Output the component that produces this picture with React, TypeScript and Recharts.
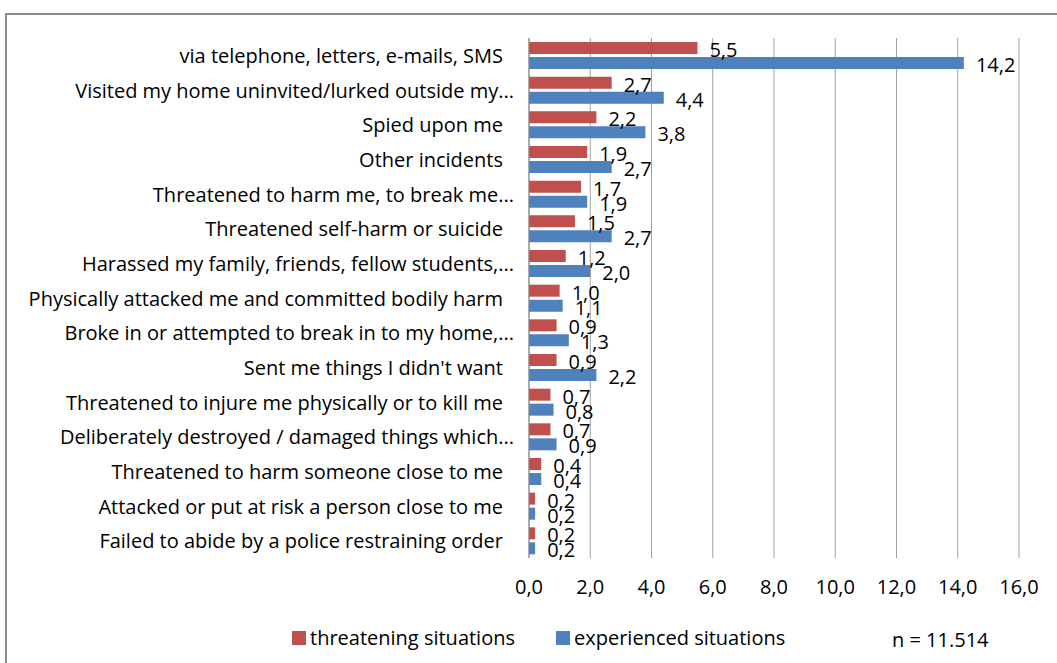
import React from "react";
import { Bar, BarChart, CartesianGrid, LabelList, XAxis, YAxis } from "recharts";

const categories = [
  "via telephone, letters, e-mails, SMS",
  "Visited my home uninvited/lurked outside my...",
  "Spied upon me",
  "Other incidents",
  "Threatened to harm me, to break me...",
  "Threatened self-harm or suicide",
  "Harassed my family, friends, fellow students,...",
  "Physically attacked me and committed bodily harm",
  "Broke in or attempted to break in to my home,...",
  "Sent me things I didn't want",
  "Threatened to injure me physically or to kill me",
  "Deliberately destroyed / damaged things which...",
  "Threatened to harm someone close to me",
  "Attacked or put at risk a person close to me",
  "Failed to abide by a police restraining order",
];

const threatening = [5.5, 2.7, 2.2, 1.9, 1.7, 1.5, 1.2, 1.0, 0.9, 0.9, 0.7, 0.7, 0.4, 0.2, 0.2];
const experienced = [14.2, 4.4, 3.8, 2.7, 1.9, 2.7, 2.0, 1.1, 1.3, 2.2, 0.8, 0.9, 0.4, 0.2, 0.2];

const xTicks = [0, 2, 4, 6, 8, 10, 12, 14, 16];

const seriesNames = ["threatening situations", "experienced situations"];
const seriesColors = ["#C0504D", "#4F81BD"];
const sampleNote = "n = 11.514";

const data = categories.map((name, i) => ({
  name,
  threatening: threatening[i],
  experienced: experienced[i],
}));

const FONT = "'Open Sans', sans-serif";
const FS = 20;
const fmt = (v: number) => Number(v).toFixed(1).replace(".", ",");

// truncated labels run right up to the axis, full ones stop a little earlier
function CategoryTick({ x, y, payload }: any) {
  const truncated = String(payload.value).endsWith("...");
  return (
    <text
      x={x - (truncated ? 7 : 18)}
      y={y}
      textAnchor="end"
      dominantBaseline="central"
      fontFamily={FONT}
      fontSize={FS}
      fill="#000"
    >
      {payload.value}
    </text>
  );
}

function ValueTick({ x, y, payload }: any) {
  return (
    <text x={x} y={y + 20} textAnchor="middle" dominantBaseline="central" fontFamily={FONT} fontSize={FS} fill="#000">
      {fmt(payload.value)}
    </text>
  );
}

export default function App() {
  return (
    <div style={{ position: "absolute", left: 0, top: 0, width: 1057, height: 663, overflow: "hidden", background: "#fff" }}>
      <div
        style={{
          position: "absolute",
          left: 5,
          top: 13,
          width: 1100,
          height: 700,
          border: "2px solid #8c8c8c",
        }}
      />
      <div style={{ position: "absolute", left: 0, top: 0 }}>
        <BarChart
          width={1057}
          height={663}
          data={data}
          layout="vertical"
          margin={{ top: 38, right: 38, bottom: 75, left: 0 }}
          barCategoryGap={4}
          barGap={3}
        >
          <CartesianGrid horizontal={false} stroke="#a0a0a0" />
          <XAxis
            type="number"
            domain={[0, 16]}
            ticks={xTicks}
            axisLine={false}
            tickLine={false}
            tick={<ValueTick />}
            height={30}
          />
          <YAxis
            type="category"
            dataKey="name"
            width={529}
            axisLine={{ stroke: "#888" }}
            tickLine={false}
            tick={<CategoryTick />}
            interval={0}
          />
          <Bar dataKey="threatening" fill={seriesColors[0]} isAnimationActive={false}>
            <LabelList dataKey="threatening" position="right" offset={12} dy={2} formatter={fmt} fontFamily={FONT} fontSize={FS} fill="#000" />
          </Bar>
          <Bar dataKey="experienced" fill={seriesColors[1]} isAnimationActive={false}>
            <LabelList dataKey="experienced" position="right" offset={12} dy={2} formatter={fmt} fontFamily={FONT} fontSize={FS} fill="#000" />
          </Bar>
        </BarChart>
      </div>
      {seriesNames.map((name, i) => (
        <div
          key={name}
          style={{
            position: "absolute",
            left: i === 0 ? 292 : 556,
            top: 624,
            display: "flex",
            alignItems: "center",
            fontFamily: FONT,
            fontSize: FS,
            color: "#000",
          }}
        >
          <span style={{ width: 14, height: 14, background: seriesColors[i], marginRight: 4, display: "inline-block" }} />
          {name}
        </div>
      ))}
      <div style={{ position: "absolute", left: 892, top: 626, fontFamily: FONT, fontSize: FS, color: "#000" }}>
        {sampleNote}
      </div>
    </div>
  );
}
